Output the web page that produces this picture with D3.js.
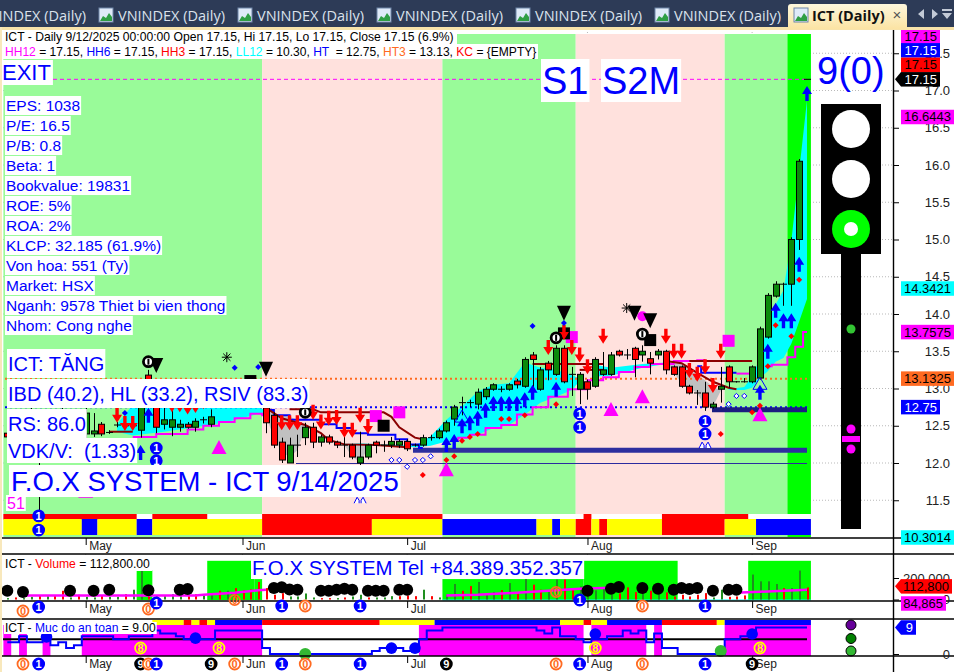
<!DOCTYPE html>
<html>
<head>
<meta charset="utf-8">
<title>ICT (Daily)</title>
<script src="https://cdn.jsdelivr.net/npm/d3@7"></script>
<style>
  html, body { margin: 0; padding: 0; background: #fff; overflow: hidden; }
  svg { display: block; font-family: "Liberation Sans", Arial, sans-serif; }
</style>
</head>
<body>
<div id="chart"></div>
<script>
"use strict";

// daily bars, oldest first; the first bars sit under the text boxes and are estimates
const opens = [12.40,12.40,12.55,12.65,12.50,12.40,12.55,12.65,12.50,12.45,12.39,12.39,12.52,12.41,12.51,12.50,12.50,12.44,13.18,12.85,
  12.52,12.48,12.48,12.52,12.48,12.58,12.52,12.85,12.95,13.05,12.95,13.05,13.00,12.74,12.64,12.28,12.00,12.24,12.34,12.48,
  12.28,12.35,12.28,12.24,12.24,12.00,12.08,12.28,12.24,12.24,12.24,12.29,12.24,12.24,12.34,12.34,12.43,12.59,12.81,12.81,
  12.79,12.89,12.99,12.99,12.99,13.10,13.03,13.45,12.99,13.34,13.19,13.54,13.19,12.99,13.09,13.03,13.19,13.19,13.50,13.45,
  13.54,13.45,13.40,13.45,13.50,13.29,13.29,13.03,12.94,12.94,12.75,12.99,13.29,13.09,13.09,13.09,13.14,13.69,14.24,14.40,
  14.40,15.00,17.15];
const highs = [12.50,12.60,12.70,12.80,12.60,12.60,12.70,12.75,12.60,12.65,12.80,12.67,12.55,12.44,12.55,12.54,12.54,12.95,13.25,12.95,
  12.75,12.75,12.58,12.55,12.60,12.62,12.72,13.00,13.10,13.12,13.10,13.12,13.10,12.85,12.68,12.34,12.34,12.38,12.54,12.54,
  12.38,12.38,12.30,12.35,12.26,12.42,12.26,12.30,12.30,12.35,12.32,12.32,12.26,12.38,12.38,12.46,12.57,12.78,12.89,12.85,
  13.00,13.02,13.07,13.03,13.07,13.13,13.42,13.49,13.29,13.37,13.58,13.58,13.29,13.22,13.12,13.42,13.49,13.49,13.52,13.53,
  13.56,13.58,13.49,13.53,13.52,13.31,13.31,13.05,12.98,13.09,12.82,13.29,13.31,13.10,13.14,13.31,13.83,14.28,14.44,14.42,
  15.03,16.08,17.15];
const lows = [12.30,12.30,12.45,12.40,11.33,12.30,12.50,12.45,12.35,12.40,12.30,12.35,12.36,12.39,12.48,12.47,12.47,12.34,12.80,12.40,
  12.45,12.36,12.42,12.46,12.42,12.53,12.48,12.78,12.88,12.90,12.85,12.95,12.80,12.40,12.20,12.00,12.00,12.08,12.24,12.20,
  12.22,12.25,12.20,12.08,12.05,11.97,12.05,12.13,12.15,12.20,12.20,12.16,12.22,12.22,12.30,12.32,12.41,12.50,12.64,12.75,
  12.72,12.85,12.97,12.95,12.97,13.00,13.01,13.02,12.97,13.11,13.17,13.07,12.90,12.79,12.85,13.01,13.17,13.17,13.43,13.39,
  13.15,13.36,13.19,13.39,13.19,13.17,13.01,12.92,12.78,12.70,12.73,12.81,13.01,13.08,13.08,13.07,13.12,13.67,14.22,14.11,
  14.11,14.86,17.15];
const closes = [12.35,12.55,12.65,12.50,12.35,12.55,12.65,12.50,12.45,12.60,12.67,12.43,12.39,12.41,12.51,12.50,12.50,12.85,12.85,12.48,
  12.58,12.58,12.52,12.48,12.56,12.58,12.62,12.95,13.05,12.95,13.05,13.00,12.85,12.54,12.24,12.04,12.24,12.24,12.48,12.28,
  12.35,12.28,12.24,12.24,12.08,12.08,12.24,12.24,12.24,12.29,12.29,12.19,12.24,12.34,12.34,12.43,12.54,12.75,12.81,12.81,
  12.95,12.99,13.05,12.99,13.05,13.05,13.39,13.39,13.25,13.25,13.54,13.09,13.19,13.19,12.99,13.39,13.25,13.45,13.45,13.45,
  13.39,13.50,13.34,13.50,13.25,13.19,13.03,12.94,12.94,12.75,12.79,13.03,13.09,13.09,13.09,13.29,13.80,14.25,14.40,14.40,
  15.00,16.05,17.15];

// volume in thousands, and the bars drawn red
const volumes = [13,19,13,25,38,31,38,81,19,44,25,19,38,25,25,50,91,269,59,31,38,50,31,31,50,38,44,81,81,106,88,94,163,106,44,59,28,28,56,19,
  13,13,13,19,28,44,19,19,19,31,31,38,31,91,31,19,44,144,81,125,163,59,69,88,153,50,194,138,91,69,185,185,106,122,63,85,100,47,56,113,
  69,122,81,75,66,28,44,28,44,59,19,91,25,28,38,232,169,169,144,106,106,269,112.8];
const redVolumeBars = [1,4,6,7,9,12,15,18,23,24,27,29,30,31,32,33,34,35,40,41,43,46,50,51,52,54,58,59,63,65,67,68,71,72,78,79,80,82,84,85,86,87,88,89,92,93,94,99,102];

// "Muc do an toan" per bar
const safetyLevels = [4,4,6,4,4,6,3,4,2,3,6,6,6,6,5,5,6,6,6,8,7,7,6,5,5,5,5,8,8,8,8,8,8,2,0,0,0,0,0,0,
  0,0,0,0,0,0,0,1,2,2,2,1,1,5,8,8,9,9,9,9,9,9,9,9,9,9,9,9,8,7,9,6,6,5,4,5,5,6,6,8,
  7,8,4,7,2,2,0,0,0,0,0,0,5,5,6,7,9,9,9,9,9,9,9];

// month ticks
const monthLabels = ["May","Jun","Jul","Aug","Sep"];
const monthBars = [10,30,51,74,95];

// tick labels
const priceTicks = [11.5,12,12.5,13,13.5,14,14.5,15,15.5,16,16.5,17,17.5];
const volumeTicks = [0,200];
const safetyTicks = [0];

// coloured zones, [first bar, end bar, state]
const zoneBackground = [[0,33,"up"],[33,56,"down"],[56,73,"up"],[73,92,"down"],[92,100,"up"],[100,103,"strong"]];
const stripUpper = [[0,17,"red"],[19,26,"red"],[33,56,"red"],[74,75,"red"],[84,95,"red"]];
const stripLower = [[0,10,"yellow"],[10,12,"blue"],[12,17,"yellow"],[17,19,"blue"],[19,33,"yellow"],[33,47,"red"],[47,56,"yellow"],[56,68,"blue"],[68,70,"yellow"],[70,71,"blue"],[71,73,"yellow"],[73,75,"red"],[75,76,"yellow"],[76,77,"red"],[77,84,"yellow"],[84,92,"red"],[92,96,"yellow"],[96,103,"blue"]];
const volumeBands = [[17,19,270],[26,32,360],[32,33,190],[56,74,190],[74,86,360],[95,103,360]];
const safetyStrip = [[19,23,"yellow"],[23,24,"red"],[24,25,"yellow"],[25,26,"red"],[26,27,"yellow"],[27,33,"blue"],[33,48,"red"],[48,55,"yellow"],[55,71,"blue"],[71,74,"yellow"],[74,75,"red"],[75,77,"yellow"],[77,84,"blue"],[84,91,"red"],[91,92,"yellow"],[92,103,"blue"]];
const safetyZones = [[0,1],[2,3],[5,6],[10,33],[53,74],[75,82],[83,84],[92,103]];

// ribbon sections, [bar, upper, lower]
const cyanRibbonA = [[14,12.52,12.42],[16,12.78,12.37],[20,12.78,12.42],[24,12.78,12.48],[28,12.74,12.55],[32,12.75,12.66],[33,12.70,12.68]];
const grayRibbonA = [[33,12.71,12.62],[34,12.67,12.35],[35,12.64,12.15],[36,12.62,12.08],[37,12.58,12.17],[38,12.50,12.47]];
const grayRibbonB = [[43,12.27,12.24],[44,12.27,12.08],[45,12.26,12.01],[46,12.25,12.20]];
const cyanRibbonB = [[44,12.27,12.25],[52,12.23,12.21],[54,12.36,12.23],[56,12.58,12.29],[58,12.76,12.34],[60,12.96,12.38],[62,13.05,12.47],[64,13.07,12.51],[66,13.35,12.65],[68,13.28,12.81],[70,13.25,12.89],[72,13.18,12.98],[73,13.13,13.10]];
const cyanRibbonC = [[75,13.32,13.16],[77,13.28,13.17],[81,13.33,13.28],[84,13.35,13.33]];
const grayRibbonC = [[84,13.38,13.36],[86,13.33,13.07],[88,13.18,12.94],[89,13.11,12.76],[90,13.02,12.76],[91,12.98,12.97]];
const cyanRibbonD = [[92,12.99,12.98],[94,13.02,12.98],[95,13.16,13.01],[96,13.41,13.14],[97,13.88,13.23],[98,14.13,13.36],[99,14.32,13.41],[100,14.98,13.60],[101,15.92,13.90],[102,16.87,14.20]];

// indicator lines, [bar, price]
const trendLineA = [[16,12.35],[18,12.35],[20,12.39],[22,12.39],[24,12.45],[26,12.50],[28,12.55],[30,12.60],[32,12.66],[33,12.64]];
const trendLineB = [[57,12.31],[58,12.34],[60,12.38],[62,12.47],[64,12.51],[66,12.65],[68,12.75],[70,12.89],[73,12.99],[75,13.11],[77,13.15],[79,13.22],[81,13.29],[83,13.33],[87,13.37],[89,13.38]];
const trendLineC = [[93,13.20],[95,13.20]];
const trendLineD = [[97,13.30],[98,13.32],[99,13.32],[100,13.42],[101,13.56],[102,13.76]];
const blueLineA = [[33,12.71],[35,12.64],[37,12.58],[39,12.58],[41,12.52],[43,12.47],[45,12.40],[47,12.38],[49,12.38],[50,12.32],[52,12.25],[53,12.20]];
const blueLineB = [[88,13.30],[89,13.21],[93,13.21]];
const stopLineA = [[33,12.74],[35,12.60],[38,12.51],[40,12.40],[41,12.31],[43,12.25],[47,12.24],[51,12.21]];
const stopLineB = [[36,12.72],[39,12.72],[40,12.68],[48,12.68],[49,12.62],[50,12.48],[52,12.34],[53,12.32]];
const stopLineC = [[13,12.42],[16,12.42]];
const stopLineD = [[67,13.33],[76,13.33]];
const stopLineE = [[73,13.25],[76,13.25]];
const stopLineF = [[84,13.37],[86,13.34],[88,13.21],[90,13.09],[92,13.01],[93,12.99]];
const stopLineG = [[87,13.37],[95,13.37]];

// level lines from the header: HH12, HT3, HT and the two support levels
const levelHH12 = 17.15;
const levelHT3 = 13.13;
const levelHT = 12.75;
const levelThin = 12.0;
const levelSupport = 12.17;

// signals, [bar, price]
const redArrows = [[14,12.54],[15,12.43],[16,12.43],[21,12.68],[22,12.68],[23,12.65],[24,12.67],[25,12.72],[35,12.44],[36,12.44],[37,12.44],[39,12.58],[40,12.45],[41,12.50],[42,12.51],[43,12.34],[44,12.34],[45,12.54],[46,12.39],[69,13.45],[71,13.65],[72,13.45],[73,13.35],[74,13.19],[76,13.60],[84,13.60],[85,13.40],[86,13.40],[87,13.14],[88,13.09],[89,13.19],[90,12.94],[91,13.40]];
const blueArrows = [[17,12.24],[18,12.74],[56,12.35],[57,12.39],[58,12.60],[59,12.64],[60,12.70],[61,12.81],[62,12.90],[63,12.90],[64,12.90],[65,12.90],[66,12.95],[67,13.05],[70,13.09],[96,13.05],[97,13.60],[98,14.15],[99,14.01],[100,14.01],[101,14.77],[102,17.06]];
const hollowTriangles = [[58,12.71],[96,13.15]];
const magentaTriangles = [[10,11.72],[27,12.31],[56,12.01],[77,12.82],[81,12.99],[96,12.75]];
const magentaSquares = [[47,12.63],[50,12.68],[72,13.69],[92,13.64]];
const blackSquares = [[31,13.10],[48,12.50],[71,13.74],[82,13.65]];
const blackTriangles = [[19,13.41],[33,13.36],[71,14.11],[80,14.11],[82,14.01]];
const ringSignals = [[18,13.36],[38,12.68],[70,13.68],[81,13.73]];
const starSignals = [[28,13.42],[79,14.08]];
const blueDiamonds = [[15,12.67],[29,13.28],[32,13.29],[67,13.84],[71,13.88]];
const redDiamonds = [[53,11.84],[56,12.04],[57,12.09],[58,12.30],[59,12.35],[60,12.39],[63,12.59],[64,12.59],[66,12.64],[70,12.79],[91,12.39],[95,12.68],[96,12.77],[97,13.30],[98,13.85],[100,13.70],[101,14.46]];
const hollowDiamonds = [[49,12.04],[50,12.04],[51,11.95],[52,12.04],[53,12.04],[54,12.09],[92,12.79],[93,12.90],[94,12.90]];
const blueOnes = [[19,12.20],[19,12.03],[4,11.29],[4,11.10],[73,12.66],[73,12.48],[89,12.56],[89,12.39]];
const wingSignals = [[45,11.50],[89,12.24]];
const magentaDots = [[81,13.97]];

// volume panel signals, [bar, volume] and [bar, glyph]
const volumeDots = [[0,81],[2,69],[8,81],[11,81],[13,91],[18,85],[22,91],[23,97],[34,106],[35,113],[36,94],[37,91],[40,81],[41,81],[42,91],[43,100],[44,91],[46,81],[47,81],[48,81],[50,91],[51,91],[74,81],[77,100],[78,116],[81,106],[83,100],[85,91],[86,106],[87,97],[88,106],[90,81],[92,91],[93,91]];
const volumeAverageA = [[2,38],[7,38],[10,38],[17,38],[24,38],[25,44],[29,63],[32,85],[33,90]];
const volumeAverageB = [[56,38],[60,44],[65,63],[70,85],[73,100],[77,110]];
const volumeAverageC = [[92,60],[96,72],[102,90]];
const volumeRowMarks = [[2,"0"],[4,"1"],[18,"0"],[19,"1"],[29,"0"],[35,"1"],[38,"0"],[45,"1"],[70,"0"],[73,"1"],[81,"0"],[89,"1"]];
const safetyRowMarks = [[2,"0"],[4,"1"],[17,"9"],[18,"0"],[19,"1"],[26,"9"],[29,"0"],[35,"1"],[38,"0"],[45,"1"],[56,"9"],[70,"0"],[73,"1"],[81,"0"],[89,"1"],[95,"9"]];
const safetyBlueDots = [[5,5.8],[24,5.4],[49,2],[52,2],[75,6.8],[95,6.8]];
const safetyGreenDots = [[38,0],[91,1]];
const safetyEights = [17,27,75,96];

// text
const infoLines = ["EPS: 1038","P/E: 16.5","P/B: 0.8","Beta: 1","Bookvalue: 19831","ROE: 5%","ROA: 2%","KLCP: 32.185 (61.9%)","Von hoa: 551 (Ty)","Market: HSX","Nganh: 9578 Thiet bi vien thong","Nhom: Cong nghe"];
const headerValues = [["HH12","#ff00ff"," = 17.15, "],["HH6","#0000ff"," = 17.15, "],["HH3","#ff0000"," = 17.15, "],["LL12","#00ffff"," = 10.30, "],["HT ","#0000ff"," = 12.75, "],["HT3","#ff6a21"," = 13.13, "],["KC","#ff0000"," = {EMPTY}"]];
const tabStarts = [-21,118,257,396,535,674];

// [value, background, text colour]
const priceTags = [[16.6443,"#ff00ff","#000"],[14.3421,"#00ffff","#000"],[13.7575,"#ff00ff","#000"],[13.1325,"#ff6a21","#000"]];

const width = 954, height = 672;
const xBar = d3.scaleLinear().domain([0, 102]).range([7.3, 807]);
const step = xBar(1) - xBar(0);
const yPrice = d3.scaleLinear().domain([12, 17]).range([463, 90.5]);
const yVolume = d3.scaleLinear().domain([0, 200]).range([599.5, 578]);
const ySafety = d3.scaleLinear().domain([0, 9]).range([654, 627.5]);

const zoneFill = { up: "#99fb99", down: "#ffe1dd", strong: "#00ff00" };
const stateFill = { red: "#ff0000", yellow: "#ffff00", blue: "#0000ff" };
const BLUE = "#0000ff", MAGENTA = "#ff00ff", CYAN = "#00ffff", RED = "#ff0000", ORANGE = "#ff6a21";
const DARK_RED = "#8b0000", GREEN_BODY = "#0b8a0b";

const barLeft = i => xBar(i) - step / 2;

const svg = d3.select("#chart").append("svg").attr("width", width).attr("height", height);

function rect(g, x, y, w, h, fill) {
  return g.append("rect").attr("x", x).attr("y", y).attr("width", w).attr("height", h).attr("fill", fill);
}

function hLine(g, x1, x2, y, color, w, dash) {
  const l = g.append("line").attr("x1", x1).attr("x2", x2).attr("y1", y).attr("y2", y)
    .attr("stroke", color).attr("stroke-width", w);
  if (dash) l.attr("stroke-dasharray", dash);
  return l;
}

// text on a white box, like the chart's own notes
function boxed(g, str, x, y0, y1, size, color, pad) {
  const bg = rect(g, x, y0, 10, y1 - y0, "#fff");
  const t = g.append("text").attr("x", x + pad).attr("y", (y0 + y1) / 2 + size * 0.35)
    .attr("font-size", size).attr("fill", color).attr("xml:space", "preserve").text(str);
  bg.attr("width", t.node().getComputedTextLength() + pad * 2);
  return t;
}

// ---- tab strip
function drawTabs() {
  const g = svg.append("g");
  rect(g, 0, 0, width, 27, "#2d3b57");
  rect(g, 0, 27, width, 3, "#f8e3aa");
  rect(g, 0, 27, 2, height - 27, "#f8e8bc");

  function icon(x) {
    rect(g, x, 8, 14, 14, "#dfeaf8").attr("stroke", "#6f86a8");
    g.append("path").attr("d", `M${x + 1},21 L${x + 4},16 L${x + 7},18 L${x + 10},13 L${x + 13},17 L${x + 13},21 Z`).attr("fill", "#2f9e44");
  }
  tabStarts.forEach(x => {
    if (x > 0) icon(x - 19);
    g.append("text").attr("x", x).attr("y", 21).attr("font-size", 14.5)
      .attr("font-family", "'Open Sans'").attr("fill", "#dbe2ec").text("VNINDEX (Daily)");
  });

  const tab = svg.append("defs").append("linearGradient").attr("id", "tabFill").attr("x2", 0).attr("y2", 1);
  tab.append("stop").attr("offset", 0).attr("stop-color", "#fdf7dc");
  tab.append("stop").attr("offset", 1).attr("stop-color", "#fbe3a3");
  g.append("path").attr("d", "M788,29 V7 Q788,4 791,4 H904 Q907,4 907,7 V29 Z").attr("fill", "url(#tabFill)");
  icon(794);
  g.append("text").attr("x", 812).attr("y", 21).attr("font-size", 14.5).attr("font-weight", "bold")
    .attr("font-family", "'Open Sans'").attr("fill", "#111").text("ICT (Daily)");
  g.append("text").attr("x", 897).attr("y", 20).attr("text-anchor", "middle").attr("font-size", 15).attr("fill", "#555").text("×");
  g.append("path").attr("d", "M924,9 L918,14 L924,19 Z M932,9 L938,14 L932,19 Z M942,9 H952 V11 H942 Z M942,13 H952 L947,19 Z").attr("fill", "#c3cad6");
}

// ---- dotted grid; the panels paint over it, so it only shows in the margins
function drawGrid() {
  const g = svg.append("g").attr("stroke", "#b9b9b9").attr("stroke-dasharray", "1,2");
  priceTicks.forEach(p => hLine(g, 3, 893, yPrice(p), "#b9b9b9", 1, "1,2"));
  volumeTicks.forEach(v => hLine(g, 3, 893, yVolume(v), "#b9b9b9", 1, "1,2"));
  safetyTicks.forEach(v => hLine(g, 3, 893, ySafety(v), "#b9b9b9", 1, "1,2"));
  monthBars.forEach(b => {
    g.append("line").attr("x1", xBar(b)).attr("x2", xBar(b)).attr("y1", 29).attr("y2", 537);
    g.append("line").attr("x1", xBar(b)).attr("x2", xBar(b)).attr("y1", 554).attr("y2", 601);
  });
}

// ---- main price panel
function drawZones() {
  const g = svg.append("g");
  zoneBackground.forEach(([a, b, s]) => rect(g, barLeft(a), 34, barLeft(b) - barLeft(a), 503, zoneFill[s]));
  rect(g, barLeft(0), 514, barLeft(103) - barLeft(0), 21, "#fff");
  stripUpper.forEach(([a, b, s]) => rect(g, barLeft(a), 514, barLeft(b) - barLeft(a), 5.5, stateFill[s]));
  stripLower.forEach(([a, b, s]) => rect(g, barLeft(a), 519, barLeft(b) - barLeft(a), 16, stateFill[s]));
}

function drawRibbons() {
  const g = svg.append("g");
  const area = d3.area().x(d => xBar(d[0])).y0(d => yPrice(d[2])).y1(d => yPrice(d[1]));
  [cyanRibbonA, cyanRibbonB, cyanRibbonC, cyanRibbonD].forEach(r =>
    g.append("path").attr("d", area(r)).attr("fill", CYAN));
  [grayRibbonA, grayRibbonB, grayRibbonC].forEach(r =>
    g.append("path").attr("d", area(r)).attr("fill", "#c0c0c0"));
}

function drawLevels() {
  const g = svg.append("g");
  hLine(g, 53, 807, yPrice(levelHH12), MAGENTA, 1, "4,3");
  hLine(g, 5, 807, yPrice(levelHT3), ORANGE, 2, "2,3");
  hLine(g, 5, 807, yPrice(levelHT), BLUE, 2, "2,3");
  hLine(g, 296, 807, yPrice(levelThin) + 0.5, "#2b2b9f", 1);
  hLine(g, 413, 807, yPrice(levelSupport), "#2e2e9e", 5);
  hLine(g, 712, 807, yPrice(levelHT) + 2.5, "#1c1c80", 5);
}

function drawLines() {
  const g = svg.append("g").attr("fill", "none");
  const straight = d3.line().x(d => xBar(d[0])).y(d => yPrice(d[1]));
  const stepped = d3.line().x(d => xBar(d[0])).y(d => yPrice(d[1])).curve(d3.curveStep);
  [trendLineA, trendLineB, trendLineC, trendLineD].forEach(l =>
    g.append("path").attr("d", stepped(l)).attr("stroke", MAGENTA).attr("stroke-width", 2));
  [blueLineA, blueLineB].forEach(l =>
    g.append("path").attr("d", stepped(l)).attr("stroke", BLUE).attr("stroke-width", 2));
  [stopLineA, stopLineB, stopLineC, stopLineD, stopLineE, stopLineF, stopLineG].forEach(l =>
    g.append("path").attr("d", straight(l)).attr("stroke", DARK_RED).attr("stroke-width", 2));
}

function drawCandles() {
  const g = svg.append("g");
  const c = g.selectAll("g").data(d3.range(opens.length)).join("g");
  c.append("line")
    .attr("x1", i => Math.round(xBar(i)) + 0.5).attr("x2", i => Math.round(xBar(i)) + 0.5)
    .attr("y1", i => yPrice(highs[i])).attr("y2", i => yPrice(lows[i]))
    .attr("stroke", "#000");
  c.filter(i => opens[i] !== closes[i]).append("rect")
    .attr("x", i => Math.round(xBar(i)) - 2.5).attr("width", 6)
    .attr("y", i => yPrice(Math.max(opens[i], closes[i])))
    .attr("height", i => Math.abs(yPrice(opens[i]) - yPrice(closes[i])))
    .attr("fill", i => closes[i] > opens[i] ? GREEN_BODY : RED)
    .attr("stroke", "#000");
  c.filter(i => opens[i] === closes[i]).append("line")
    .attr("x1", i => Math.round(xBar(i)) - 3).attr("x2", i => Math.round(xBar(i)) + 4)
    .attr("y1", i => yPrice(opens[i])).attr("y2", i => yPrice(opens[i]))
    .attr("stroke", "#000");
}

function glyphs(g, rows, path, fill, stroke) {
  g.selectAll(null).data(rows).join("path")
    .attr("transform", d => `translate(${xBar(d[0])},${yPrice(d[1])})`)
    .attr("d", path)
    .attr("fill", fill)
    .attr("stroke", stroke || "none");
}

function numbered(g, x, y, ch) {
  const styles = {
    "1": { fill: BLUE, stroke: BLUE, text: "#fff" },
    "0": { fill: "#fff", stroke: ORANGE, text: ORANGE },
    "9": { fill: "#000", stroke: "#000", text: "#fff" },
    "8": { fill: MAGENTA, stroke: "#ffff00", text: "#ffff00" }
  };
  const s = styles[ch];
  g.append("circle").attr("cx", x).attr("cy", y).attr("r", 5.5)
    .attr("fill", s.fill).attr("stroke", s.stroke).attr("stroke-width", 1.8);
  g.append("text").attr("x", x).attr("y", y + 3.8).attr("text-anchor", "middle")
    .attr("font-size", 11).attr("font-weight", "bold").attr("fill", s.text).text(ch);
}

function drawSignals() {
  const g = svg.append("g");
  const diamond = r => `M0,${-r} L${r},0 L0,${r} L${-r},0 Z`;

  glyphs(g, hollowTriangles, "M0,0 L7,12 L-7,12 Z", "none", BLUE);
  glyphs(g, magentaTriangles, "M0,0 L7.5,14 L-7.5,14 Z", MAGENTA);
  glyphs(g, magentaSquares, "M-6,-6 H6 V6 H-6 Z", MAGENTA);
  g.selectAll(null).data(magentaDots).join("circle")
    .attr("cx", d => xBar(d[0])).attr("cy", d => yPrice(d[1])).attr("r", 5).attr("fill", MAGENTA);
  glyphs(g, blackSquares, "M-6,-6 H6 V6 H-6 Z", "#000");
  glyphs(g, blackTriangles, "M-7,0 H7 L0,15 Z", "#000");
  glyphs(g, redArrows, "M0,0 L-5,-8 H-1.7 V-15 H1.7 V-8 H5 Z", RED);
  glyphs(g, blueArrows, "M0,0 L-5,8 H-1.7 V15 H1.7 V8 H5 Z", BLUE);
  glyphs(g, blueDiamonds, diamond(3), BLUE);
  glyphs(g, redDiamonds, diamond(3), RED);
  glyphs(g, hollowDiamonds, diamond(2.6), "#fff", BLUE);
  glyphs(g, wingSignals, "M-6,3 L-3,-3 L-1,0 V3 M6,3 L3,-3 L1,0 V3", "#fff", BLUE);

  ringSignals.forEach(([b, p]) => {
    g.append("circle").attr("cx", xBar(b)).attr("cy", yPrice(p)).attr("r", 5)
      .attr("fill", "#fff").attr("stroke", "#000").attr("stroke-width", 2.8);
    rect(g, xBar(b) - 1, yPrice(p) - 3, 2, 6, "#000");
  });
  glyphs(g, starSignals, "M-5,0 H5 M0,-5 V5 M-3.6,-3.6 L3.6,3.6 M-3.6,3.6 L3.6,-3.6", "none", "#000");
  blueOnes.forEach(([b, p]) => numbered(g, xBar(b), yPrice(p), "1"));
}

// ---- notes over the main panel
function drawNotes() {
  const g = svg.append("g");
  rect(g, 3, 30, 454, 14, "#fff");
  rect(g, 3, 44, 535, 15, "#fff");
  g.append("text").attr("x", 5).attr("y", 41).attr("font-size", 12.15).attr("fill", "#000")
    .text("ICT - Daily 9/12/2025 00:00:00 Open 17.15, Hi 17.15, Lo 17.15, Close 17.15 (6.9%)");
  const line2 = g.append("text").attr("x", 5).attr("y", 56).attr("font-size", 12.05).attr("xml:space", "preserve");
  headerValues.forEach(([name, color, rest]) => {
    line2.append("tspan").attr("fill", color).text(name);
    line2.append("tspan").attr("fill", "#000").text(rest);
  });

  boxed(g, "EXIT", 0, 60, 85, 22, BLUE, 2);
  boxed(g, "S1", 541, 59, 102, 38, BLUE, 1);
  boxed(g, "S2M", 601, 59, 102, 38, BLUE, 1);
  infoLines.forEach((t, i) => boxed(g, t, 5, 96 + i * 20, 115 + i * 20, 15.5, BLUE, 1));
  boxed(g, "ICT: TĂNG", 7, 349, 378, 20, BLUE, 1);
  boxed(g, "IBD (40.2), HL (33.2), RSIV (83.3)", 7, 379, 408, 20, BLUE, 1);
  boxed(g, "RS: 86.0", 7, 409, 438, 20, BLUE, 1);
  boxed(g, "VDK/V:  (1.33)", 7, 438, 463, 20, BLUE, 1);
  boxed(g, "F.O.X SYSTEM - ICT 9/14/2025", 9, 465, 497, 27.5, BLUE, 2);
  boxed(g, "51", 6, 495, 511, 16, MAGENTA, 1);
}

// ---- signal light right of the bars
function drawLight() {
  const g = svg.append("g");
  g.append("text").attr("x", 817).attr("y", 84).attr("font-size", 38).attr("fill", BLUE).text("9(0)");
  rect(g, 821, 104, 60, 150, "#000");
  rect(g, 841, 253, 20, 276, "#000");
  g.append("circle").attr("cx", 851).attr("cy", 129).attr("r", 19).attr("fill", "#fff");
  g.append("circle").attr("cx", 851).attr("cy", 179).attr("r", 19).attr("fill", "#fff");
  g.append("circle").attr("cx", 851).attr("cy", 229).attr("r", 19).attr("fill", "#00ff00");
  g.append("circle").attr("cx", 851).attr("cy", 229).attr("r", 7).attr("fill", "#fff");
  g.append("circle").attr("cx", 851).attr("cy", 329).attr("r", 4.5).attr("fill", "#33c433");
  g.append("circle").attr("cx", 851).attr("cy", 429).attr("r", 4.5).attr("fill", MAGENTA);
  g.append("circle").attr("cx", 851).attr("cy", 449).attr("r", 4.5).attr("fill", MAGENTA);
  rect(g, 842, 436, 18, 6, MAGENTA);
}

// ---- volume panel
function drawVolume() {
  const g = svg.append("g");
  rect(g, 3, 555, 890, 46, "#fff");
  volumeBands.forEach(([a, b, v]) => rect(g, barLeft(a), yVolume(v), barLeft(b) - barLeft(a), 600 - yVolume(v), "#00ff00"));
  hLine(g, barLeft(56), barLeft(103), 600, CYAN, 1);

  g.selectAll(null).data(volumes).join("rect")
    .attr("x", (d, i) => Math.round(xBar(i)))
    .attr("width", 2)
    .attr("y", d => Math.max(yVolume(d), 555))
    .attr("height", d => yVolume(0) - Math.max(yVolume(d), 555))
    .attr("fill", (d, i) => redVolumeBars.includes(i) ? RED : "#1f8f1f");

  const line = d3.line().x(d => xBar(d[0])).y(d => yVolume(d[1]));
  [volumeAverageA, volumeAverageB, volumeAverageC].forEach(l =>
    g.append("path").attr("d", line(l)).attr("fill", "none").attr("stroke", MAGENTA).attr("stroke-width", 2.5));

  g.selectAll(null).data(volumeDots).join("circle")
    .attr("cx", d => xBar(d[0])).attr("cy", d => yVolume(d[1])).attr("r", 6).attr("fill", "#000");

  rect(g, 3, 557, 149, 14, "#fff");
  const t = g.append("text").attr("x", 5).attr("y", 568).attr("font-size", 12.2).attr("xml:space", "preserve");
  t.append("tspan").attr("fill", "#000").text("ICT - ");
  t.append("tspan").attr("fill", RED).text("Volume");
  t.append("tspan").attr("fill", "#000").text(" = 112,800.00");
  boxed(g, "F.O.X SYSTEM Tel +84.389.352.357", 251, 556, 579, 20.4, BLUE, 1);
}

// ---- safety panel
function drawSafety() {
  const g = svg.append("g");
  rect(g, 3, 620, 890, 36, "#fff");
  safetyZones.forEach(([a, b]) => rect(g, barLeft(a), 625, barLeft(b) - barLeft(a), 31, MAGENTA));
  safetyStrip.forEach(([a, b, s]) => rect(g, barLeft(a), 620, barLeft(b) - barLeft(a), 5, stateFill[s]));
  hLine(g, 3, 807, ySafety(5), "#000", 2);

  const line = d3.line().x((d, i) => xBar(i)).y(d => ySafety(d)).curve(d3.curveStep);
  g.append("path").attr("d", line(safetyLevels)).attr("fill", "none").attr("stroke", BLUE).attr("stroke-width", 2);

  g.selectAll(null).data(safetyBlueDots).join("circle")
    .attr("cx", d => xBar(d[0])).attr("cy", d => ySafety(d[1])).attr("r", 5.8).attr("fill", BLUE);
  g.selectAll(null).data(safetyGreenDots).join("circle")
    .attr("cx", d => xBar(d[0])).attr("cy", d => ySafety(d[1])).attr("r", 6).attr("fill", "#33b833");
  safetyEights.forEach(b => numbered(g, xBar(b), 648, "8"));

  boxed(g, "ICT - Muc do an toan = 9.00", 4, 622, 634, 12.1, "#000", 1).each(function () {
    const t = d3.select(this), str = t.text();
    t.text(null);
    t.append("tspan").attr("fill", "#000").text("ICT - ");
    t.append("tspan").attr("fill", BLUE).text("Muc do an toan");
    t.append("tspan").attr("fill", "#000").text(str.slice(str.indexOf(" =")));
  });

  // the three small lamps
  [["#660099", 625], ["#008000", 638.5], ["#33b833", 651]].forEach(([c, y]) =>
    g.append("circle").attr("cx", 851).attr("cy", y).attr("r", 5).attr("fill", c).attr("stroke", "#000"));
}

// ---- axes and rules
function drawAxes() {
  const g = svg.append("g");
  [538, 554, 601, 619, 656].forEach(y => hLine(g, 2, width, y, "#000", 1.4));
  g.append("line").attr("x1", 893.5).attr("x2", 893.5).attr("y1", 29).attr("y2", height).attr("stroke", "#000").attr("stroke-width", 1.4);

  // month axis repeats under each panel
  [538, 601, 656].forEach(y => {
    const a = g.append("g").attr("transform", `translate(0,${y})`)
      .call(d3.axisBottom(xBar).tickValues(monthBars).tickFormat((d, i) => monthLabels[i]).tickSize(7));
    a.select(".domain").remove();
    a.selectAll("line").attr("stroke", "#000");
    a.selectAll("text").attr("text-anchor", "start").attr("x", 3).attr("y", 3)
      .attr("font-size", 12).attr("font-family", "'Liberation Sans'").attr("fill", "#222");
  });

  function valueAxis(scale, values, fmt) {
    const a = g.append("g").attr("transform", "translate(893,0)")
      .call(d3.axisRight(scale).tickValues(values).tickFormat(fmt).tickSize(6));
    a.select(".domain").remove();
    a.selectAll("line").attr("stroke", "#000");
    a.selectAll("text").attr("text-anchor", "end").attr("x", 57)
      .attr("font-size", 13).attr("font-family", "'Liberation Sans'").attr("fill", "#222");
  }
  valueAxis(yPrice, priceTicks, d3.format(".1f"));
  valueAxis(yVolume, volumeTicks, d => d3.format(",")(d * 1000));
  valueAxis(ySafety, safetyTicks, d3.format("d"));
}

function tag(g, str, y, bg, fg, w, pointer) {
  const h = 14.5, top = y - h / 2;
  const left = 901;
  if (pointer) {
    g.append("path").attr("d", `M895,${y} L${left},${top} V${top + h} Z`).attr("fill", bg);
  }
  rect(g, left, top, w, h, bg);
  g.append("text").attr("x", left + w - 3).attr("y", y + 4.5).attr("text-anchor", "end")
    .attr("font-size", 13).attr("fill", fg).text(str);
}

function drawTags() {
  const g = svg.append("g");
  const top = yPrice(17.15);
  tag(g, "17.15", top - 43, MAGENTA, "#000", 39);
  tag(g, "17.15", top - 29, BLUE, "#fff", 39);
  tag(g, "17.15", top - 14.5, RED, "#000", 39);
  tag(g, "17.15", top, "#000", "#fff", 39, true);
  priceTags.forEach(([v, bg, fg]) => tag(g, d3.format(".4f")(v), yPrice(v), bg, fg, 53));
  tag(g, "12.75", yPrice(12.75), BLUE, "#fff", 39);
  tag(g, "10.3014", 537.5, CYAN, "#000", 53);

  tag(g, "112,800", yVolume(volumes[102]) - 1, RED, "#000", 51, true);
  tag(g, "84,865", 603.5, MAGENTA, "#000", 45);

  tag(g, "9", ySafety(9), BLUE, "#fff", 15, true);
}

function drawRowMarks() {
  const g = svg.append("g");
  const volumeRowY = { 2: 611, 4: 607, 18: 609, 19: 603, 29: 600, 70: 592, 73: 600 };
  volumeRowMarks.forEach(([b, ch]) => {
    const y = volumeRowY[b] || 606;
    if (b === 29 || b === 70) {
      // these two sit on the volume bars and let them show through
      g.append("circle").attr("cx", xBar(b)).attr("cy", y).attr("r", 5.2)
        .attr("fill", "none").attr("stroke", ORANGE).attr("stroke-width", 1.8);
      g.append("text").attr("x", xBar(b)).attr("y", y + 3.6).attr("text-anchor", "middle")
        .attr("font-size", 10).attr("font-weight", "bold").attr("fill", ORANGE).text(ch);
    } else {
      numbered(g, xBar(b), y, ch);
    }
  });
  safetyRowMarks.forEach(([b, ch]) => numbered(g, xBar(b), 664, ch));
}

drawGrid();
drawZones();
drawRibbons();
drawLevels();
drawLines();
drawCandles();
drawSignals();
drawNotes();
drawLight();
drawVolume();
drawSafety();
drawAxes();
drawTags();
drawRowMarks();
drawTabs();
</script>
</body>
</html>
